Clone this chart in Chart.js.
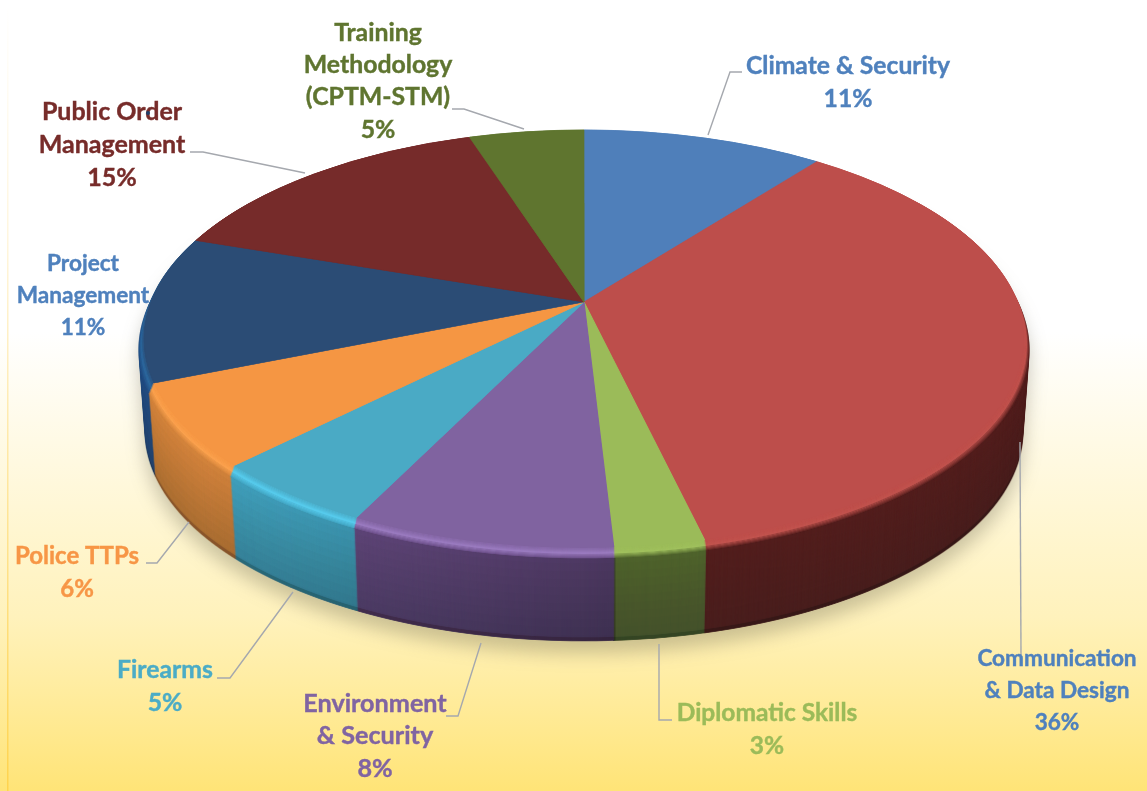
<!DOCTYPE html>
<html>
<head>
<meta charset="utf-8">
<style>
  html, body { margin: 0; padding: 0; background: #fff; }
  canvas { display: block; filter: blur(0.4px); }
</style>
<script src="https://cdn.jsdelivr.net/npm/chart.js@4"></script>
</head>
<body>
<canvas id="pieChart" width="1147" height="791"></canvas>
<script>
const categories = ['Climate & Security', 'Communication & Data Design', 'Diplomatic Skills', 'Environment & Security', 'Firearms', 'Police TTPs', 'Project Management', 'Public Order Management', 'Training Methodology (CPTM-STM)'];
const sliceValues = [10.5, 35.8, 2.8, 8.2, 5.2, 6.4, 11.3, 14.8, 5.0];
const percentLabels = ['11%', '36%', '3%', '8%', '5%', '6%', '11%', '15%', '5%'];

const topColors = ['#4F7FBA', '#BD4E4B', '#9BBB59', '#8063A0', '#4AAAC5', '#F59643', '#2B4C75', '#762B2A', '#5F752F'];
const rimColors = ['#4F7FBA', '#C2544F', '#A0C05E', '#9A7BBF', '#58CBEC', '#FBA24F', '#2F6BA1', '#762B2A', '#5F752F'];
const wallColors = ['#3A5F8C', '#531F1E', '#4F632D', '#684C84', '#42A2BF', '#D2843D', '#244E83', '#5A2020', '#475823'];
const labelColors = ['#4F81BD', '#4F81BD', '#9BBB59', '#8064A2', '#4BACC6', '#F79646', '#4F81BD', '#772C2A', '#5F7530'];

// label text lines, size, centre x, y of each line, leader line
const labelLayout = [
  { lines: ['Climate & Security'], size: 24.7, x: 848, y: [66, 99], leader: [[742, 72], [730, 72], [708, 135]] },
  { lines: ['Communication', '& Data Design'], size: 22.6, x: 1057, y: [659, 691, 723], leader: [[1020, 442], [1021, 655]] },
  { lines: ['Diplomatic Skills'], size: 24.5, x: 767, y: [713, 746], leader: [[672, 720], [659, 720], [659, 644]] },
  { lines: ['Environment', '& Security'], size: 25.2, x: 375, y: [704, 736, 769], leader: [[446, 716], [458, 716], [481, 643]] },
  { lines: ['Firearms'], size: 24.8, x: 165, y: [670, 703], leader: [[217, 678], [230, 678], [293, 592]] },
  { lines: ['Police TTPs'], size: 24, x: 77, y: [556, 589], leader: [[146, 563], [157, 563], [189, 522]] },
  { lines: ['Project', 'Management'], size: 22.6, x: 83, y: [264, 296, 328], leader: [] },
  { lines: ['Public Order', 'Management'], size: 25, x: 112, y: [112, 145, 178], leader: [[190, 152], [203, 152], [305, 173]] },
  { lines: ['Training', 'Methodology', '(CPTM-STM)'], size: 24.8, x: 378, y: [33, 65, 97, 130], leader: [[452, 109], [464, 109], [524, 129]] }
];

// projection of the flat pie on to the tilted disc
const APEX_X = 584, APEX_Y = 302, PROJ_A = 202.4, PROJ_B = -0.177, TOP_RADIUS = 433;
const WALL_DEPTH = 93, BEVEL_DEPTH = 10, BEVEL_SPREAD = 0.01, WALL_TAPER = 0.014;

function newLayer(w, h) {
  const c = document.createElement('canvas');
  c.width = w;
  c.height = h;
  return c;
}

// draw the chart's own arc elements row by row through the projection
function projectArcs(arcs, colors, w, h) {
  const layer = newLayer(w, h);
  const ctx = layer.getContext('2d');
  const cx = arcs[0].x, cy = arcs[0].y, r = arcs[0].outerRadius;
  for (let y = 120; y < 560; y++) {
    const dy = y + 0.5 - APEX_Y;
    const v = dy / (PROJ_A - dy * PROJ_B);
    if (Math.abs(v) > 1.02) continue;
    const k = 1 + PROJ_B * v;
    const sx = TOP_RADIUS / (k * r);
    const sy = PROJ_A / (k * k * r);
    ctx.save();
    ctx.beginPath();
    ctx.rect(0, y, w, 1);
    ctx.clip();
    ctx.setTransform(sx, 0, 0, sy, APEX_X - cx * sx, y + 0.5 - (cy + v * r) * sy);
    arcs.forEach((arc, i) => {
      const saved = arc.options;
      arc.options = { ...saved, backgroundColor: colors[i], borderColor: colors[i], borderWidth: 1 };
      arc.draw(ctx);
      arc.options = saved;
    });
    ctx.restore();
  }
  return layer;
}

function stamp(ctx, layer, d, scale) {
  const w = layer.width;
  ctx.drawImage(layer, APEX_X - APEX_X * scale, d, w * scale, layer.height);
}

const pie3d = {
  id: 'pie3d',
  beforeDraw(chart) {
    const { ctx, width, height } = chart;
    const bg = ctx.createLinearGradient(0, 0, 0, height);
    bg.addColorStop(0, '#ffffff');
    bg.addColorStop(0.42, '#ffffff');
    bg.addColorStop(0.78, '#FFF2BC');
    bg.addColorStop(1, '#FFE477');
    ctx.fillStyle = bg;
    ctx.fillRect(0, 0, width, height);

    const edge = ctx.createLinearGradient(0, 0, 0, height);
    edge.addColorStop(0, '#ffffff');
    edge.addColorStop(0.3, '#FFF6DE');
    edge.addColorStop(1, '#FFD34D');
    ctx.fillStyle = edge;
    ctx.fillRect(7, 8, 1.5, height - 8);
    ctx.fillRect(7, 8, width - 7, 0.5);
  },
  beforeDatasetsDraw(chart) {
    const { ctx, width, height } = chart;
    const arcs = chart.getDatasetMeta(0).data;
    const top = projectArcs(arcs, topColors, width, height);
    const rim = projectArcs(arcs, rimColors, width, height);
    const wall = projectArcs(arcs, wallColors, width, height);

    // side wall is the disc stacked downwards, getting a little narrower
    const wallLayer = newLayer(width, height);
    const wctx = wallLayer.getContext('2d');
    const outer = 1 + BEVEL_SPREAD;
    const wallScale = d => outer * (1 - WALL_TAPER * (d - BEVEL_DEPTH) / (WALL_DEPTH - BEVEL_DEPTH));
    for (let d = WALL_DEPTH; d >= BEVEL_DEPTH; d--) {
      stamp(wctx, wall, d, wallScale(d));
      if (d === WALL_DEPTH - 3 || d % 8 === 0) {
        wctx.globalCompositeOperation = 'source-atop';
        wctx.fillStyle = d === WALL_DEPTH - 3 ? 'rgba(0,0,0,0.2)' : 'rgba(0,0,0,0.02)';
        wctx.fillRect(0, 0, width, height);
        wctx.globalCompositeOperation = 'source-over';
      }
    }
    // wall falls off to the right on the front left slices
    const shade = wctx.createLinearGradient(0, 0, width, 0);
    shade.addColorStop(200 / width, 'rgba(0,0,0,0)');
    shade.addColorStop(615 / width, 'rgba(0,0,0,0.27)');
    shade.addColorStop(616 / width, 'rgba(0,0,0,0)');
    wctx.globalCompositeOperation = 'source-atop';
    wctx.fillStyle = shade;
    wctx.fillRect(0, 0, width, height);
    wctx.globalCompositeOperation = 'source-over';

    // soft ground shadow
    const shadow = newLayer(width, height);
    const sctx = shadow.getContext('2d');
    sctx.drawImage(wallLayer, 0, 0);
    sctx.globalCompositeOperation = 'source-in';
    sctx.fillStyle = '#55503a';
    sctx.fillRect(0, 0, width, height);
    ctx.save();
    ctx.filter = 'blur(9px)';
    ctx.globalAlpha = 0.3;
    ctx.drawImage(shadow, 0, 12);
    ctx.restore();

    ctx.drawImage(wallLayer, 0, 0);

    // bevel between wall and top face
    for (let d = BEVEL_DEPTH; d >= 0; d--) {
      const t = d / BEVEL_DEPTH;
      const s = 1 + BEVEL_SPREAD * t;
      if (d >= 6) {
        stamp(ctx, wall, d, s);
        ctx.globalAlpha = (BEVEL_DEPTH - d + 1) / 5;
        stamp(ctx, rim, d, s);
      } else {
        stamp(ctx, rim, d, s);
        ctx.globalAlpha = (5 - d) / 5;
        stamp(ctx, top, d, s);
      }
      ctx.globalAlpha = 1;
    }
    return false;
  },
  afterDraw(chart) {
    const { ctx } = chart;
    ctx.save();
    ctx.strokeStyle = '#A5A8AE';
    ctx.lineWidth = 1.4;
    labelLayout.forEach(item => {
      if (!item.leader.length) return;
      ctx.beginPath();
      item.leader.forEach(([x, y], i) => (i ? ctx.lineTo(x, y) : ctx.moveTo(x, y)));
      ctx.stroke();
    });
    ctx.textAlign = 'center';
    ctx.textBaseline = 'middle';
    ctx.lineWidth = 0.4;
    labelLayout.forEach((item, i) => {
      ctx.font = `bold ${item.size}px Lato`;
      ctx.fillStyle = labelColors[i];
      ctx.strokeStyle = labelColors[i];
      [...item.lines, percentLabels[i]].forEach((line, j) => {
        ctx.fillText(line, item.x, item.y[j]);
        ctx.strokeText(line, item.x, item.y[j]);
      });
    });
    // stray mark on the Public Order label in the source
    ctx.fillStyle = '#1F3F6B';
    ctx.beginPath();
    ctx.arc(148, 113, 2, 0, Math.PI * 2);
    ctx.fill();
    ctx.restore();
  }
};

new Chart(document.getElementById('pieChart').getContext('2d'), {
  type: 'pie',
  data: {
    labels: categories,
    datasets: [{ data: sliceValues, backgroundColor: topColors, borderWidth: 0 }]
  },
  options: {
    responsive: false,
    animation: false,
    events: [],
    layout: { padding: 0 },
    plugins: { legend: { display: false }, tooltip: { enabled: false } }
  },
  plugins: [pie3d]
});
</script>
</body>
</html>
